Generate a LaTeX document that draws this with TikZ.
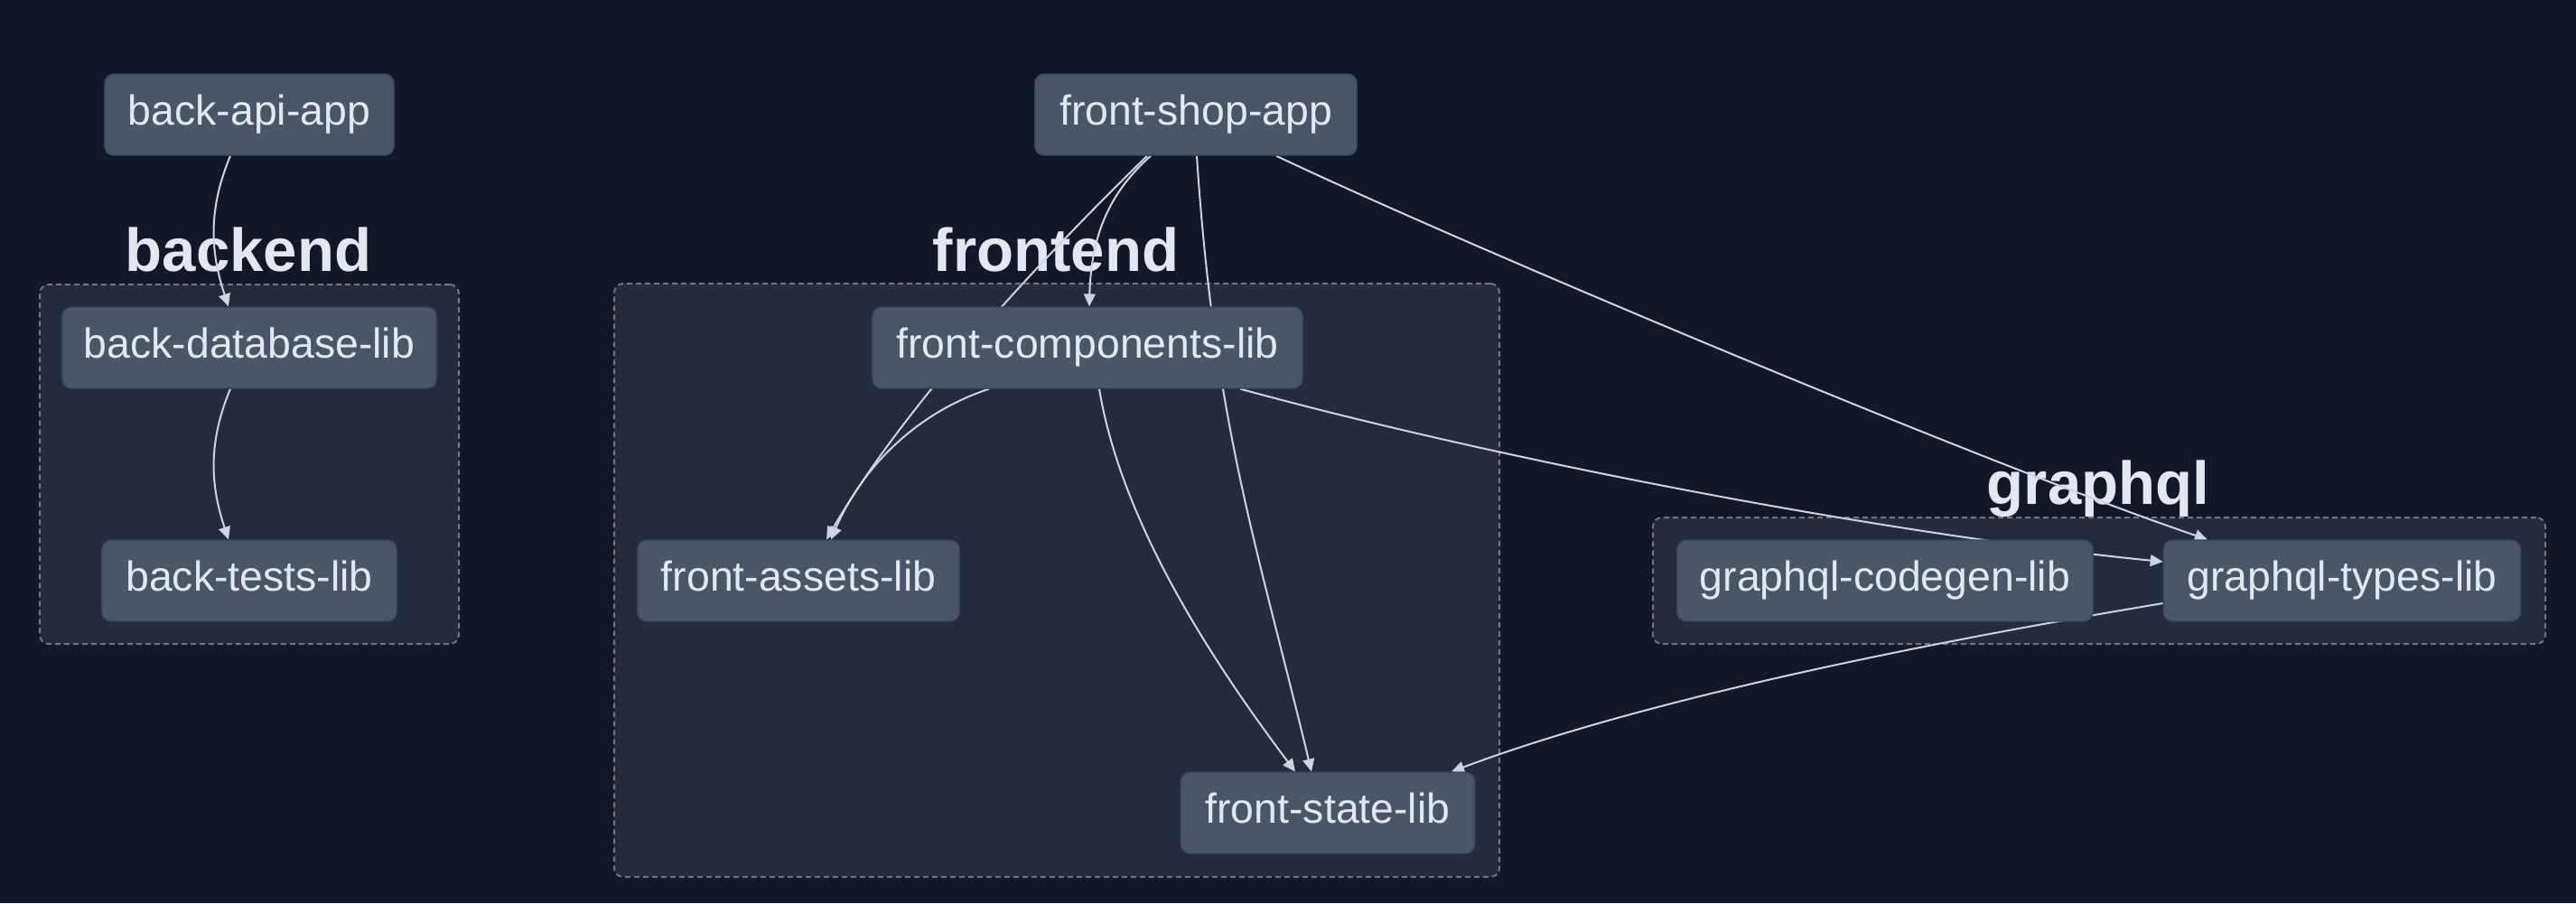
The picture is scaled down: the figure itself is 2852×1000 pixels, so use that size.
\documentclass[tikz,border=0pt]{standalone}
\usepackage{fontspec}
\setmainfont{Liberation Sans}
\usepackage{tikz}
\usetikzlibrary{arrows.meta,shapes,positioning}
\usepackage{xcolor}
\definecolor{bgdark}{RGB}{17,24,39}
\definecolor{clusterfill}{RGB}{35,43,61}
\definecolor{clusterline}{RGB}{107,118,138}
\definecolor{nodefill}{RGB}{74,85,104}
\definecolor{nodeline}{RGB}{62,72,90}
\definecolor{textlight}{RGB}{226,232,240}
\definecolor{edgeline}{RGB}{203,213,225}
\pgfdeclarelayer{background}
\pgfdeclarelayer{edges}
\pgfsetlayers{background,edges,main}
\tikzstyle{project} = [rectangle, rounded corners=2.5pt, minimum height=22.4pt, text centered, draw=nodeline, fill=nodefill, line width=0.4pt, text=textlight, font=\fontsize{11.6pt}{14pt}\selectfont, text height=8.7pt, text depth=2.9pt]
\tikzstyle{cluster} = [rectangle, rounded corners=2.5pt, draw=clusterline, fill=clusterfill, line width=0.5pt, dash pattern=on 1.5pt off 1pt]
\tikzstyle{grouplabel} = [anchor=base, text=textlight, font=\bfseries\fontsize{16.8pt}{20pt}\selectfont, inner sep=0pt]
\tikzstyle{dep} = [line width=0.5pt, -{Triangle[length=3.5pt,width=3.2pt]}, color=edgeline]

\begin{document}
\begin{tikzpicture}[x=0.25pt, y=-0.25pt]
\useasboundingbox (0,0) rectangle (2852,1000);

% Groups
\begin{pgfonlayer}{background}
\fill[bgdark] (0,0) rectangle (2852,1000);
\node[cluster, minimum width=116pt, minimum height=99.5pt] (backend) at (276,514) {};
\node[cluster, minimum width=245pt, minimum height=164.25pt] (frontend) at (1170,642.5) {};
\node[cluster, minimum width=247pt, minimum height=35pt] (graphql) at (2324,643) {};
\node[grouplabel] (backendlbl) at (275,300) {backend};
\node[grouplabel] (frontendlbl) at (1169,300) {frontend};
\node[grouplabel] (graphqllbl) at (2323,558) {graphql};
\end{pgfonlayer}

% Projects
\node[project, minimum width=80pt] (backapi) at (276,127) {back-api-app};
\node[project, minimum width=103.5pt] (backdb) at (276,385) {back-database-lib};
\node[project, minimum width=81.5pt] (backtests) at (276,643) {back-tests-lib};
\node[project, minimum width=89pt] (frontshop) at (1324,127) {front-shop-app};
\node[project, minimum width=119pt] (frontcomp) at (1204,385) {front-components-lib};
\node[project, minimum width=89pt] (frontassets) at (884,643) {front-assets-lib};
\node[project, minimum width=81.25pt] (frontstate) at (1470,900) {front-state-lib};
\node[project, minimum width=115pt] (gqlcodegen) at (2087,643) {graphql-codegen-lib};
\node[project, minimum width=98.75pt] (gqltypes) at (2593,643) {graphql-types-lib};

% Dependencies
\begin{pgfonlayer}{edges}
\draw[dep] ([xshift=-5.25pt]backapi.south) .. controls +(-25,60) and +(-20,-60) .. ([xshift=-5.75pt]backdb.north);
\draw[dep] ([xshift=-5.25pt]backdb.south) .. controls +(-25,60) and +(-20,-60) .. ([xshift=-5.75pt]backtests.north);
\draw[dep] ([xshift=-12.5pt]frontshop.south) .. controls +(-45,40) and +(2,-80) .. ([xshift=0.5pt]frontcomp.north);
\draw[dep] ([xshift=-13.5pt]frontshop.south) .. controls +(-120,117) and +(85,-147) .. ([xshift=7.75pt]frontassets.north);
\draw[dep] ([xshift=-27.25pt]frontcomp.south) .. controls +(-90,30) and +(30,-70) .. ([xshift=9pt]frontassets.north);
\draw[dep] ([xshift=0.25pt]frontshop.south) .. controls +(20,300) and +(-60,-250) .. ([xshift=-4.5pt]frontstate.north);
\draw[dep] ([xshift=3.25pt]frontcomp.south) .. controls +(25,150) and +(-90,-120) .. ([xshift=-9pt]frontstate.north);
\draw[dep] ([xshift=22.25pt]frontshop.south) .. controls +(200,95) and +(-250,-85) .. ([xshift=-37.25pt]gqltypes.north);
\draw[dep] ([xshift=42.25pt]frontcomp.south) .. controls +(300,82) and +(-300,-30) .. ([yshift=5.25pt]gqltypes.west);
\draw[dep] ([yshift=-6.25pt]gqltypes.west) .. controls +(-300,50) and +(200,-75) .. ([xshift=34.25pt]frontstate.north);
\end{pgfonlayer}
\end{tikzpicture}
\end{document}
